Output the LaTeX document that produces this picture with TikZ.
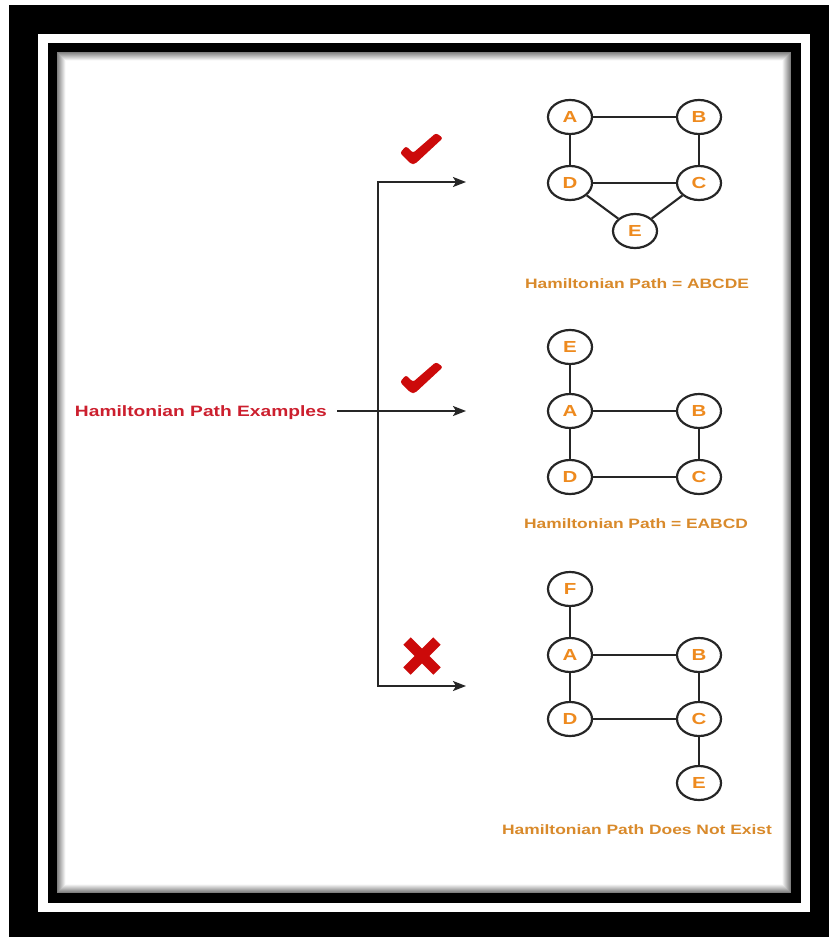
\documentclass[tikz,border=0pt]{standalone}
\usepackage{fontspec}
\setmainfont{Liberation Sans}
\usetikzlibrary{arrows.meta,shapes.geometric}
\definecolor{nodeorange}{HTML}{EE8A1E}
\definecolor{labelorange}{HTML}{D98A2B}
\definecolor{titlered}{HTML}{CC1F2E}
\definecolor{markred}{HTML}{CC0A0A}
\definecolor{linegrey}{HTML}{262626}
\newcommand{\hx}[1]{\scalebox{1.28}[1]{#1}}
\begin{document}
\begin{tikzpicture}[x=1pt,y=-1pt,
  vtx/.style={ellipse, draw=linegrey, line width=2.2pt, fill=white,
    minimum width=44pt, minimum height=34pt, inner sep=0pt,
    font=\fontsize{16}{17}\selectfont\bfseries, text=nodeorange},
  edge/.style={draw=linegrey, line width=2.1pt},
  caption/.style={font=\fontsize{13.6}{14}\selectfont\bfseries, text=labelorange,
    inner sep=0pt, text height=9.8pt, text depth=0pt},
  conn/.style={draw=linegrey, line width=1.8pt},
  tip/.tip={Stealth[length=13pt, width=10pt, inset=3pt]}
]
\useasboundingbox (0,0) rectangle (829,937);
% frame
\fill[white] (0,0) rectangle (829,937);
\fill[black] (9,5) rectangle (829,937);
\fill[white] (38,34) rectangle (810,912);
\fill[black] (48,43) rectangle (801,903);
\fill[white] (57,52) rectangle (791,893);
\foreach \i in {0,...,8} {
  \pgfmathtruncatemacro\g{50-6*\i}
  \draw[black!\g, line width=1pt] (57.5+\i,52.5+\i) rectangle (790.5-\i,892.5-\i);
}
% graph 1
\node[vtx] (a1) at (570,117) {\hx{A}};
\node[vtx] (b1) at (699,117) {\hx{B}};
\node[vtx] (d1) at (570,183) {\hx{D}};
\node[vtx] (c1n) at (699,183) {\hx{C}};
\node[vtx] (e1) at (635,231) {\hx{E}};
\draw[edge] (a1) -- (b1);
\draw[edge] (a1) -- (d1);
\draw[edge] (b1) -- (c1n);
\draw[edge] (d1) -- (c1n);
\draw[edge] (d1) -- (e1);
\draw[edge] (c1n) -- (e1);
\node[caption] (cap1) at (637,284) {\hx{Hamiltonian Path = ABCDE}};
% graph 2
\node[vtx] (e2) at (570,347) {\hx{E}};
\node[vtx] (a2) at (570,411) {\hx{A}};
\node[vtx] (b2) at (699,411) {\hx{B}};
\node[vtx] (d2) at (570,477) {\hx{D}};
\node[vtx] (c2) at (699,477) {\hx{C}};
\draw[edge] (e2) -- (a2);
\draw[edge] (a2) -- (b2);
\draw[edge] (a2) -- (d2);
\draw[edge] (b2) -- (c2);
\draw[edge] (d2) -- (c2);
\node[caption] (cap2) at (636,524) {\hx{Hamiltonian Path = EABCD}};
% graph 3
\node[vtx] (f3) at (570,589) {\hx{F}};
\node[vtx] (a3) at (570,655) {\hx{A}};
\node[vtx] (b3) at (699,655) {\hx{B}};
\node[vtx] (d3) at (570,719) {\hx{D}};
\node[vtx] (c3) at (699,719) {\hx{C}};
\node[vtx] (e3) at (699,783) {\hx{E}};
\draw[edge] (f3) -- (a3);
\draw[edge] (a3) -- (b3);
\draw[edge] (a3) -- (d3);
\draw[edge] (b3) -- (c3);
\draw[edge] (d3) -- (c3);
\draw[edge] (c3) -- (e3);
\node[caption] (cap3) at (637,830) {\hx{Hamiltonian Path Does Not Exist}};
% title and connectors
\node[font=\fontsize{15}{16}\selectfont\bfseries, text=titlered, inner sep=0pt,
  text height=10.8pt, text depth=0pt, anchor=east] (title) at (327,411)
  {\hx{Hamiltonian Path Examples}};
\coordinate (t1) at (466,182);
\coordinate (t2) at (466,411);
\coordinate (t3) at (466,686);
\coordinate (j1) at (378,182);
\coordinate (j3) at (378,686);
\draw[conn, {tip}-{tip}] (t1) -- (j1) -- (j3) -- (t3);
\draw[conn, -{tip}] ([xshift=10pt]title.east) -- (t2);
% marks
\begin{scope}[shift={(400,133)}]
  \fill[markred, rounded corners=2.5pt] (0,20) -- (6,13) -- (13,20) -- (36,0) -- (43,5) -- (15,31) -- (11,31) -- cycle;
\end{scope}
\begin{scope}[shift={(400,362)}]
  \fill[markred, rounded corners=2.5pt] (0,20) -- (6,13) -- (13,20) -- (36,0) -- (43,5) -- (15,31) -- (11,31) -- cycle;
\end{scope}
\draw[markred, line width=10.5pt] (407,641) -- (437,671) (437,641) -- (407,671);
\end{tikzpicture}
\end{document}
